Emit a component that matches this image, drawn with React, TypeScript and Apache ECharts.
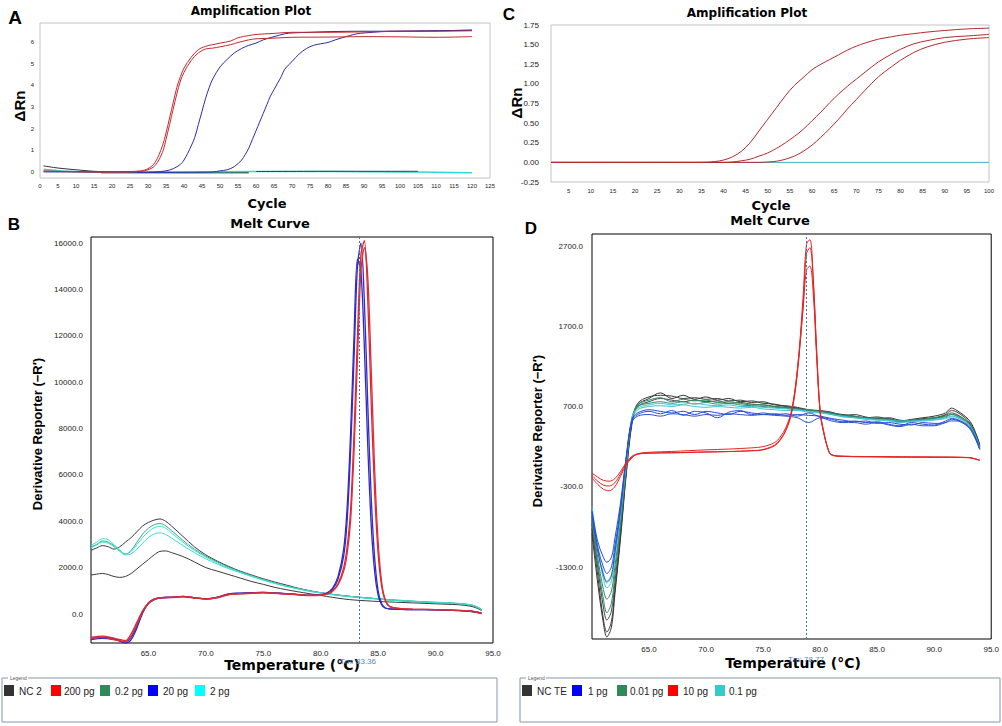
import React, { useEffect, useRef } from 'react';
import * as echarts from 'echarts';

// ---------- Panel A : amplification plot (cycles vs ΔRn) ----------
const aTicksX = [0, 5, 10, 15, 20, 25, 30, 35, 40, 45, 50, 55, 60, 65, 70, 75, 80, 85, 90, 95, 100, 105, 110, 115, 120, 125];
const aTicksY = [0, 1, 2, 3, 4, 5, 6];
const aRedCycles = [1, 5, 10, 15, 20, 25, 28, 30, 32, 34, 35, 36, 37, 38, 39, 40, 42, 44, 46, 48, 50, 53, 55, 58, 60, 65, 70, 80, 90, 100, 110, 120];
const aRed1 = [0.05, 0.03, 0.02, 0, 0, 0.02, 0.05, 0.15, 0.45, 1.2, 1.8, 2.5, 3.2, 3.9, 4.4, 4.8, 5.3, 5.65, 5.8, 5.88, 5.95, 6.05, 6.2, 6.3, 6.35, 6.4, 6.45, 6.45, 6.47, 6.5, 6.5, 6.52];
const aRed2 = [0.03, 0.02, 0.01, 0, 0, 0, 0.03, 0.1, 0.3, 0.9, 1.5, 2.2, 2.9, 3.6, 4.2, 4.6, 5.15, 5.5, 5.68, 5.72, 5.78, 5.88, 5.98, 6.1, 6.15, 6.18, 6.22, 6.23, 6.25, 6.24, 6.22, 6.25];
const aBlueCycles1 = [1, 10, 20, 28, 32, 35, 37, 39, 40, 41, 42, 43, 44, 45, 46, 47, 48, 50, 52, 54, 56, 58, 60, 62, 65, 68, 70, 75, 80, 90, 100, 110, 120];
const aBlue1 = [0, 0, 0, -0.02, 0, 0.05, 0.15, 0.35, 0.55, 0.85, 1.2, 1.6, 2.2, 2.8, 3.4, 3.9, 4.3, 4.85, 5.2, 5.5, 5.7, 5.85, 5.95, 6.1, 6.25, 6.38, 6.42, 6.45, 6.48, 6.5, 6.5, 6.52, 6.55];
const aBlueCycles2 = [27, 35, 45, 48, 50, 52, 54, 56, 57, 58, 59, 60, 61, 62, 63, 64, 65, 66, 67, 68, 70, 72, 74, 76, 78, 80, 82, 84, 86, 88, 90, 95, 100, 110, 120];
const aBlue2 = [-0.02, -0.02, -0.01, 0, 0.05, 0.1, 0.25, 0.55, 0.8, 1.1, 1.5, 1.9, 2.3, 2.7, 3.1, 3.5, 3.8, 4.1, 4.4, 4.75, 5.1, 5.45, 5.7, 5.85, 5.92, 5.98, 6.1, 6.2, 6.3, 6.38, 6.42, 6.48, 6.5, 6.52, 6.55];
const aNcCycles = [1, 5, 10, 15, 20, 30, 40, 58];
const aNc = [0.28, 0.18, 0.1, 0.03, 0, -0.02, -0.03, -0.02];
const aCyanCycles = [1, 5, 10, 17, 25, 40, 60, 80, 100, 110, 120];
const aCyan = [0.12, 0.06, 0.02, -0.02, -0.01, 0, 0.02, 0.02, 0, -0.01, -0.04];
const aDarkCycles = [60, 85, 105];
const aDark = [0.02, 0.03, 0.03];
const aGrayCycles = [17, 58];
const aGray = [-0.04, -0.04];

// ---------- Panel C : amplification plot ----------
const cTicksX = [5, 10, 15, 20, 25, 30, 35, 40, 45, 50, 55, 60, 65, 70, 75, 80, 85, 90, 95, 100];
const cTicksY = [-0.25, 0, 0.25, 0.5, 0.75, 1, 1.25, 1.5, 1.75];
const cCycles = [1, 10, 20, 30, 35, 38, 40, 42, 44, 46, 48, 50, 52, 54, 56, 58, 60, 62, 64, 66, 68, 70, 72, 75, 78, 80, 83, 86, 90, 95, 100];
const cAmp1 = [0, 0, 0, 0, 0, 0.01, 0.03, 0.07, 0.14, 0.25, 0.4, 0.55, 0.7, 0.85, 0.98, 1.08, 1.18, 1.25, 1.31, 1.37, 1.43, 1.48, 1.52, 1.57, 1.6, 1.62, 1.64, 1.66, 1.68, 1.7, 1.71];
const cAmp2 = [0, 0, 0, 0, 0, 0, 0, 0.005, 0.02, 0.04, 0.08, 0.12, 0.18, 0.25, 0.33, 0.42, 0.53, 0.64, 0.76, 0.87, 0.97, 1.06, 1.15, 1.28, 1.38, 1.44, 1.51, 1.55, 1.59, 1.61, 1.63];
const cAmp3 = [0, 0, 0, 0, 0, 0, 0, 0, 0, 0, 0, 0.005, 0.015, 0.04, 0.08, 0.14, 0.22, 0.32, 0.43, 0.55, 0.68, 0.8, 0.92, 1.09, 1.22, 1.3, 1.4, 1.47, 1.53, 1.57, 1.59];
const cBaseCycles = [1, 100];
const cBase = [0, 0];

// ---------- Panel B : melt curve ----------
const meltTicksX = [65, 70, 75, 80, 85, 90, 95];
const bTicksY = [0, 2000, 4000, 6000, 8000, 10000, 12000, 14000, 16000];
const bTm = 83.36;
const bTemp = [60, 60.5, 61, 61.5, 62, 62.5, 63, 63.5, 64, 64.5, 65, 65.5, 66, 66.5, 67, 68, 69, 70, 71, 72, 73, 74, 75, 76, 77, 78, 79, 80, 81, 82, 83, 84, 85, 86, 87, 88, 89, 90, 91, 92, 93, 93.5, 94];
const bCyan1 = [2950, 3100, 3250, 3200, 3000, 2750, 2600, 2700, 3000, 3300, 3550, 3720, 3780, 3700, 3500, 3100, 2750, 2450, 2200, 1980, 1800, 1630, 1470, 1330, 1200, 1090, 990, 910, 840, 780, 730, 690, 650, 610, 580, 550, 520, 500, 480, 450, 400, 330, 200];
const bCyan2 = [2850, 2980, 3100, 3050, 2900, 2700, 2550, 2600, 2800, 3050, 3300, 3450, 3500, 3430, 3280, 2950, 2650, 2380, 2150, 1950, 1780, 1620, 1460, 1320, 1190, 1080, 980, 900, 830, 770, 720, 680, 640, 600, 570, 540, 510, 490, 470, 440, 390, 320, 190];
const bGreen = [2900, 3000, 3150, 3100, 2950, 2750, 2580, 2750, 3100, 3450, 3700, 3850, 3900, 3800, 3600, 3180, 2800, 2500, 2250, 2020, 1830, 1650, 1490, 1340, 1210, 1100, 1000, 920, 850, 790, 740, 700, 660, 620, 590, 560, 530, 510, 490, 460, 410, 340, 210];
const bNc1 = [2750, 2850, 2950, 2900, 2800, 2900, 3100, 3300, 3550, 3800, 3950, 4050, 4100, 4000, 3800, 3350, 2900, 2550, 2280, 2050, 1850, 1680, 1520, 1380, 1250, 1120, 1010, 920, 850, 790, 740, 700, 650, 610, 570, 540, 510, 490, 470, 440, 390, 320, 190];
const bNc2 = [1680, 1720, 1750, 1700, 1620, 1580, 1620, 1750, 1950, 2150, 2350, 2550, 2700, 2720, 2650, 2480, 2250, 2000, 1850, 1700, 1550, 1400, 1280, 1150, 1050, 960, 880, 800, 720, 650, 600, 570, 540, 520, 500, 480, 460, 440, 420, 400, 340, 270, 150];
const bLowTemp = [60, 61, 62, 63, 63.5, 64, 64.5, 65, 65.5, 66, 67, 68, 69, 70, 71, 72, 73, 74, 75, 76, 77, 78, 79, 80, 80.5, 81, 81.5, 82, 82.3, 82.6, 82.9, 83.2, 83.5, 83.8, 84.1, 84.4, 84.7, 85, 85.3, 85.6, 86, 87, 88, 90, 92, 93, 94];
const bRed1 = [-1000, -950, -1050, -1150, -850, -350, 150, 480, 640, 700, 720, 760, 700, 650, 720, 850, 880, 900, 920, 900, 870, 840, 800, 820, 860, 980, 1300, 2000, 2900, 4500, 7800, 12000, 15500, 16100, 13500, 9000, 5200, 2600, 1200, 600, 320, 230, 210, 190, 160, 130, 40];
const bRed2 = [-1050, -1000, -1100, -1200, -950, -450, 100, 450, 620, 690, 710, 740, 690, 640, 700, 830, 870, 890, 910, 890, 860, 830, 790, 810, 850, 960, 1250, 1850, 2600, 4000, 7000, 11000, 14800, 15800, 14500, 10500, 6200, 3100, 1400, 650, 330, 230, 210, 190, 160, 130, 40];
const bBlue1 = [-1050, -1000, -1050, -1250, -1100, -600, 50, 450, 620, 690, 720, 750, 700, 660, 730, 870, 900, 920, 930, 910, 880, 850, 810, 830, 900, 1100, 1600, 2800, 4600, 7800, 12000, 15300, 14800, 11500, 7200, 3800, 1800, 800, 400, 260, 220, 200, 190, 180, 150, 120, 30];
const bBlue2 = [-1100, -1050, -1100, -1200, -1000, -500, 100, 480, 640, 700, 730, 760, 700, 650, 720, 860, 890, 910, 930, 900, 870, 840, 800, 820, 880, 1050, 1500, 2500, 4000, 7000, 11000, 15000, 16000, 13500, 9000, 5000, 2400, 1000, 450, 270, 220, 200, 190, 180, 150, 120, 30];

// ---------- Panel D : melt curve ----------
const dTicksY = [-1300, -300, 700, 1700, 2700];
const dTm = 78.77;
const dTemp = [60, 60.5, 61, 61.3, 61.7, 62, 62.5, 63, 63.5, 64, 65, 66, 67, 68, 69, 70, 71, 72, 73, 74, 75, 76, 77, 78, 79, 80, 81, 82, 83, 84, 85, 86, 87, 88, 89, 90, 91, 91.5, 92, 93, 93.5, 94];
const dNc1 = [-880, -1500, -2000, -2170, -2050, -1650, -950, -150, 480, 720, 800, 870, 800, 840, 790, 820, 780, 800, 760, 770, 740, 730, 700, 680, 650, 640, 620, 600, 580, 560, 570, 540, 520, 540, 560, 580, 620, 680, 650, 540, 420, 230];
const dNc2 = [-820, -1400, -1950, -2110, -1980, -1600, -900, -120, 500, 740, 820, 840, 830, 800, 810, 790, 800, 770, 780, 750, 760, 720, 710, 690, 660, 650, 630, 590, 600, 570, 550, 560, 530, 520, 550, 560, 600, 650, 630, 520, 400, 220];
const dNc3 = [-760, -1300, -1800, -1960, -1850, -1500, -850, -100, 520, 700, 760, 800, 780, 760, 780, 760, 770, 740, 750, 730, 720, 700, 690, 680, 650, 630, 610, 580, 570, 560, 540, 550, 520, 530, 540, 550, 590, 620, 600, 500, 390, 210];
const dGreen1 = [-720, -1250, -1700, -1870, -1750, -1400, -780, -60, 540, 720, 780, 810, 760, 790, 770, 780, 750, 760, 740, 720, 720, 700, 690, 670, 660, 640, 620, 590, 580, 550, 560, 530, 510, 520, 540, 560, 580, 600, 590, 500, 380, 200];
const dGreen2 = [-680, -1180, -1580, -1700, -1600, -1300, -720, -30, 560, 700, 740, 760, 740, 760, 730, 750, 730, 740, 720, 710, 700, 690, 680, 660, 650, 630, 610, 580, 570, 560, 540, 540, 510, 530, 530, 550, 570, 600, 580, 490, 380, 200];
const dCyan1 = [-540, -1050, -1450, -1560, -1480, -1200, -650, 0, 560, 680, 720, 740, 720, 730, 740, 720, 710, 720, 700, 700, 690, 680, 670, 660, 640, 630, 600, 580, 560, 550, 540, 530, 520, 520, 530, 540, 560, 580, 570, 480, 370, 190];
const dCyan2 = [-600, -1100, -1380, -1500, -1420, -1150, -620, 20, 540, 660, 700, 710, 700, 720, 700, 690, 700, 690, 680, 690, 670, 660, 650, 650, 630, 620, 600, 570, 560, 540, 530, 520, 500, 510, 520, 530, 550, 570, 560, 470, 360, 180];
const dBlue1 = [-620, -1050, -1300, -1380, -1300, -1050, -560, 60, 520, 600, 640, 610, 650, 590, 640, 620, 560, 630, 650, 600, 620, 600, 610, 580, 620, 570, 540, 510, 520, 500, 510, 480, 460, 500, 480, 470, 520, 550, 540, 460, 350, 180];
const dBlue2 = [-600, -980, -1180, -1240, -1180, -950, -500, 80, 540, 620, 660, 640, 620, 640, 600, 640, 620, 600, 640, 620, 600, 610, 590, 600, 590, 580, 550, 530, 510, 520, 490, 500, 480, 470, 500, 490, 500, 540, 530, 450, 340, 170];
const dBlue3 = [-660, -1100, -1400, -1480, -1400, -1120, -600, 40, 500, 580, 600, 580, 610, 600, 580, 600, 590, 610, 600, 590, 600, 590, 580, 560, 500, 560, 520, 500, 500, 480, 500, 470, 450, 480, 460, 460, 500, 520, 520, 440, 330, 160];
const dRedTemp = [60, 60.5, 61, 61.5, 62, 62.5, 63, 63.5, 64, 65, 67, 70, 72, 74, 75, 76, 76.5, 77, 77.5, 78, 78.5, 78.8, 79.1, 79.4, 79.7, 80, 80.3, 80.7, 81, 82, 85, 88, 90, 93, 94];
const dRed1 = [-130, -180, -220, -230, -200, -110, 0, 80, 110, 120, 125, 135, 140, 150, 165, 220, 290, 410, 640, 1150, 2050, 2720, 2780, 2300, 1400, 650, 400, 170, 100, 80, 75, 70, 70, 65, 30];
const dRed2 = [-160, -230, -280, -290, -250, -140, -10, 70, 105, 118, 122, 132, 138, 148, 160, 210, 280, 400, 620, 1100, 1950, 2600, 2680, 2250, 1350, 640, 390, 160, 95, 78, 72, 70, 68, 62, 28];
const dRed3 = [-190, -270, -330, -350, -300, -170, -30, 60, 110, 130, 140, 160, 170, 185, 200, 250, 320, 440, 650, 1150, 1900, 2400, 2450, 2100, 1300, 620, 380, 170, 100, 82, 76, 72, 70, 64, 30];

// ---------- Legends ----------
const bLegendNames = ['NC 2', '200 pg', '0.2 pg', '20 pg', '2 pg'];
const bLegendColors = ['#333333', '#ff0000', '#2e8b57', '#0000ff', '#00ffff'];
const dLegendNames = ['NC TE', '1 pg', '0.01 pg', '10 pg', '0.1 pg'];
const dLegendColors = ['#333333', '#0000ff', '#2e8b57', '#ff0000', '#33cccc'];

const SANS = '"Liberation Sans", Arial, sans-serif';
const WIDE = '"DejaVu Sans", Verdana, sans-serif';

const zip = (xs: number[], ys: number[]) => xs.map((x, i) => [x, ys[i]]);

const line = (idx: number, xs: number[], ys: number[], color: string, smooth: number = 0.35, width = 1) => ({
  type: 'line',
  xAxisIndex: idx,
  yAxisIndex: idx,
  data: zip(xs, ys),
  symbol: 'none',
  showSymbol: false,
  smooth,
  silent: true,
  lineStyle: { color, width },
});

const tmLine = (idx: number, tm: number) => ({
  type: 'line',
  xAxisIndex: idx,
  yAxisIndex: idx,
  data: [],
  silent: true,
  z: 5,
  markLine: {
    silent: true,
    symbol: 'none',
    label: { show: false },
    lineStyle: { color: '#3f74a8', type: [2, 2], width: 1, opacity: 1 },
    data: [{ xAxis: tm }],
  },
});

const axis = (idx: number, min: number, max: number, values: number[], fmt: (v: number) => string, fontSize: number, margin: number) => ({
  type: 'value',
  gridIndex: idx,
  min,
  max,
  axisLine: { show: false },
  axisTick: { show: false },
  splitLine: { show: false },
  axisLabel: {
    customValues: values,
    formatter: (v: number) => fmt(v),
    fontSize,
    fontFamily: SANS,
    color: '#222',
    margin,
  },
});

const txt = (x: number, y: number, text: string, font: string, fill = '#000', rotation = 0, align = 'center') => ({
  type: 'text',
  x,
  y,
  rotation,
  silent: true,
  style: { text, font, fill, textAlign: align, textVerticalAlign: 'middle' },
});

const legendBox = (x: number, w: number, names: string[], colors: string[], swX: number[], txX: number[]) => {
  const items: any[] = [
    { type: 'rect', shape: { x, y: 678, width: w, height: 44 }, style: { fill: '#fff', stroke: '#8597ab', lineWidth: 1 }, silent: true },
    { type: 'rect', shape: { x: x + 6, y: 675, width: 20, height: 6 }, style: { fill: '#fff' }, silent: true },
    txt(x + 8, 678, 'Legend', '5px ' + SANS, '#555', 0, 'left'),
  ];
  names.forEach((n, i) => {
    items.push({ type: 'rect', shape: { x: swX[i], y: 685, width: 10, height: 11 }, style: { fill: colors[i] }, silent: true });
    items.push(txt(txX[i], 691, n, '10px ' + SANS, '#222', 0, 'left'));
  });
  return items;
};

const option: any = {
  animation: false,
  backgroundColor: '#ffffff',
  grid: [
    { left: 40, top: 23, width: 450, height: 155, show: true, borderColor: '#c4c4c4', borderWidth: 1, containLabel: false },
    { left: 551, top: 25, width: 438, height: 157, show: true, borderColor: '#c4c4c4', borderWidth: 1, containLabel: false },
    { left: 91, top: 237, width: 402, height: 406, show: true, borderColor: '#000', borderWidth: 1, containLabel: false },
    { left: 592, top: 234, width: 402, height: 405, show: true, borderColor: '#000', borderWidth: 1, containLabel: false },
  ],
  xAxis: [
    axis(0, 0, 125, aTicksX, (v) => String(v), 6, 5),
    axis(1, 1, 100, cTicksX, (v) => String(v), 6, 6),
    axis(2, 60, 95, meltTicksX, (v) => v.toFixed(1), 8, 6),
    axis(3, 60, 95, meltTicksX, (v) => v.toFixed(1), 8, 6),
  ],
  yAxis: [
    axis(0, -0.28, 6.88, aTicksY, (v) => String(v), 6, 6),
    axis(1, -0.25, 1.75, cTicksY, (v) => v.toFixed(2), 8, 12),
    axis(2, -1250, 16260, bTicksY, (v) => v.toFixed(1), 8, 8),
    axis(3, -2197, 2850, dTicksY, (v) => v.toFixed(1), 8, 9),
  ],
  series: [
    // A
    line(0, aGrayCycles, aGray, '#a0a0a0', 0, 2),
    line(0, aNcCycles, aNc, '#333333'),
    line(0, aCyanCycles, aCyan, '#33d6d6', 0.35, 1.5),
    line(0, aDarkCycles, aDark, '#1d4a4a'),
    line(0, aBlueCycles1, aBlue1, '#2d2ea3'),
    line(0, aBlueCycles2, aBlue2, '#2d2ea3'),
    line(0, aRedCycles, aRed1, '#c42a30'),
    line(0, aRedCycles, aRed2, '#c42a30'),
    // C
    line(1, cBaseCycles, cBase, '#3bb6bf', 0, 1),
    line(1, cCycles, cAmp1, '#b52a2d'),
    line(1, cCycles, cAmp2, '#b52a2d'),
    line(1, cCycles, cAmp3, '#b52a2d'),
    // B
    line(2, bTemp, bNc2, '#3a3a3a'),
    line(2, bTemp, bNc1, '#3a3a3a'),
    line(2, bTemp, bGreen, '#3aa889'),
    line(2, bTemp, bCyan2, '#3cdcd4'),
    line(2, bTemp, bCyan1, '#3cdcd4'),
    line(2, bLowTemp, bBlue1, '#2a2ad0', 0.3, 1.3),
    line(2, bLowTemp, bBlue2, '#3a2ab8', 0.3, 1.3),
    line(2, bLowTemp, bRed1, '#e2262c', 0.3, 1.3),
    line(2, bLowTemp, bRed2, '#d8303a', 0.3, 1.3),
    tmLine(2, bTm),
    // D
    line(3, dTemp, dNc1, '#333333'),
    line(3, dTemp, dNc2, '#3c3c3c'),
    line(3, dTemp, dNc3, '#454545'),
    line(3, dTemp, dGreen1, '#2e8b60'),
    line(3, dTemp, dGreen2, '#2e8b70'),
    line(3, dTemp, dCyan1, '#40c4cc'),
    line(3, dTemp, dCyan2, '#40c4cc'),
    line(3, dTemp, dBlue1, '#2a50d8'),
    line(3, dTemp, dBlue2, '#1f48e0'),
    line(3, dTemp, dBlue3, '#3050c8'),
    line(3, dRedTemp, dRed1, '#e52424'),
    line(3, dRedTemp, dRed2, '#e52424'),
    line(3, dRedTemp, dRed3, '#e52424'),
    tmLine(3, dTm),
  ],
  graphic: [
    // panel letters
    txt(15, 17, 'A', 'bold 19px ' + SANS),
    txt(509, 14, 'C', 'bold 17px ' + SANS),
    txt(14, 224, 'B', 'bold 17px ' + SANS),
    txt(531, 228, 'D', 'bold 17px ' + SANS),
    // titles
    txt(251, 11, 'Amplification Plot', 'bold 12px ' + WIDE),
    txt(747, 13, 'Amplification Plot', 'bold 12px ' + WIDE),
    txt(270, 223, 'Melt Curve', 'bold 13px ' + WIDE),
    txt(770, 220, 'Melt Curve', 'bold 13px ' + WIDE),
    // axis names
    txt(267, 203, 'Cycle', 'bold 13px ' + WIDE),
    txt(771, 205, 'Cycle', 'bold 13px ' + WIDE),
    txt(19, 106, 'ΔRn', 'bold 15px ' + SANS, '#000', Math.PI / 2),
    txt(516, 103, 'ΔRn', 'bold 15px ' + SANS, '#000', Math.PI / 2),
    txt(37, 434, 'Derivative Reporter (−R′)', 'bold 13px ' + SANS, '#000', Math.PI / 2),
    txt(537, 431, 'Derivative Reporter (−R′)', 'bold 13px ' + SANS, '#000', Math.PI / 2),
    txt(292, 665, 'Temperature (°C)', 'bold 14px ' + WIDE),
    txt(793, 663, 'Temperature (°C)', 'bold 14px ' + WIDE),
    // Tm labels
    txt(358, 661, 'Tm: ' + bTm.toFixed(2), '8px ' + SANS, '#5a88b8'),
    txt(806, 659, 'Tm: ' + dTm.toFixed(2), '8px ' + SANS, '#5a88b8'),
    // legends
    ...legendBox(2, 495, bLegendNames, bLegendColors, [4, 51, 100, 148, 195], [19, 64, 115, 163, 210]),
    ...legendBox(520, 480, dLegendNames, dLegendColors, [522, 572, 617, 668, 715], [537, 588, 630, 683, 729]),
  ],
};

export default function App() {
  const ref = useRef<HTMLDivElement>(null);
  useEffect(() => {
    const chart = echarts.init(ref.current as HTMLDivElement, null, { renderer: 'svg' });
    chart.setOption(option);
    return () => chart.dispose();
  }, []);
  return (
    <div
      ref={ref}
      style={{ position: 'absolute', left: 0, top: 0, width: 1002, height: 726, background: '#fff' }}
    />
  );
}
